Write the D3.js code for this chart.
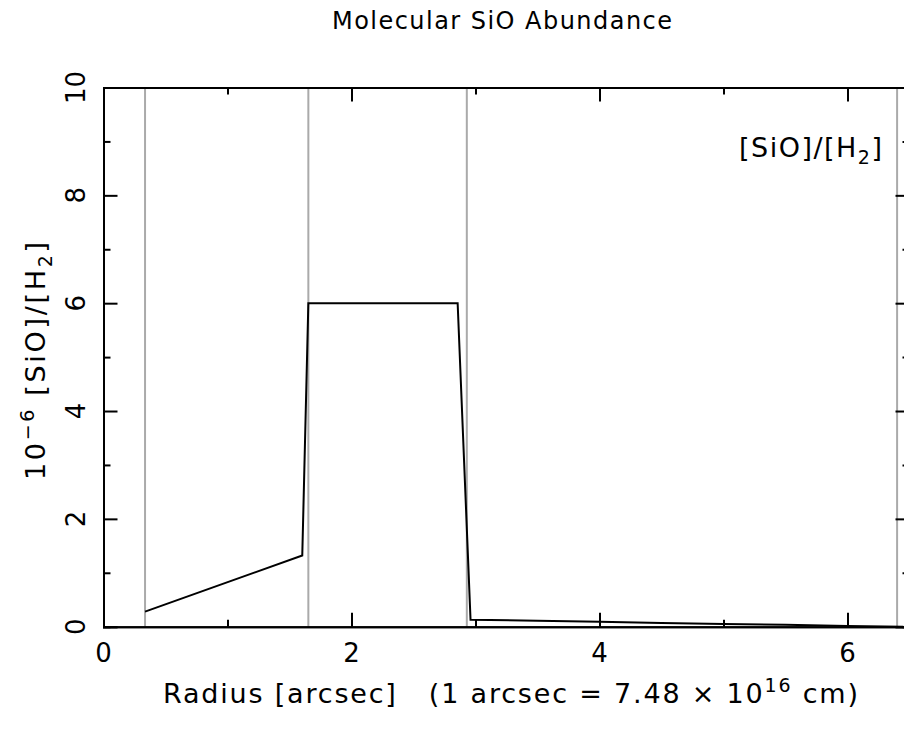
<!DOCTYPE html>
<html><head><meta charset="utf-8">
<script src="https://cdn.jsdelivr.net/npm/d3@7"></script>
<style>body{margin:0;background:#fff}svg{display:block}text{font-family:"DejaVu Sans",sans-serif;fill:#000}</style>
</head><body>
<script>
// Data
const radius = [0.335, 1.603, 1.652, 2.856, 2.96, 3.5, 4.0, 4.5, 5.0, 5.5, 6.0, 6.45];
const abundance = [0.28, 1.32, 6.0, 6.0, 0.13, 0.11, 0.09, 0.07, 0.05, 0.035, 0.015, 0.0];
const shellEdges = [0.335, 1.652, 2.93, 6.40];
const xMajorTicks = [0, 2, 4, 6];
const xMinorTicks = [1, 3, 5];
const yMajorTicks = [0, 2, 4, 6, 8, 10];
const yMinorTicks = [1, 3, 5, 7, 9];

const W = 904, H = 731;
const L = 103.5, R = 909.5, T = 87.5, B = 626.7;
const svg = d3.select("body").append("svg").attr("width", W).attr("height", H);
const x = d3.scaleLinear().domain([0, 6.5]).range([L, R]);
const y = d3.scaleLinear().domain([0, 10]).range([B, T]);

// shell edges
svg.selectAll("line.edge").data(shellEdges).enter().append("line")
  .attr("x1", d => x(d)).attr("x2", d => x(d)).attr("y1", T).attr("y2", B)
  .attr("stroke", "#aaa").attr("stroke-width", 2);

// axes with ticks inward
function addAxis(gen, tr, major, minor, lenMaj, lenMin) {
  const g = svg.append("g").attr("transform", tr);
  g.call(gen.tickValues(major).tickSize(lenMaj).tickFormat(""));
  const g2 = svg.append("g").attr("transform", tr);
  g2.call(gen.tickValues(minor).tickSize(lenMin).tickFormat(""));
  [g, g2].forEach(gg => { gg.selectAll("path").attr("stroke", "#000").attr("stroke-width", 2);
    gg.selectAll("line").attr("stroke", "#000").attr("stroke-width", 2); });
}
addAxis(d3.axisTop(x), `translate(0,${B})`, xMajorTicks, xMinorTicks, 14, 7);
addAxis(d3.axisBottom(x), `translate(0,${T})`, xMajorTicks, xMinorTicks, 14, 7);
addAxis(d3.axisRight(y), `translate(${L},0)`, yMajorTicks, yMinorTicks, 14, 7);
addAxis(d3.axisLeft(y), `translate(${R},0)`, yMajorTicks, yMinorTicks, 14, 7);

// tick labels
svg.selectAll("text.xt").data(xMajorTicks).enter().append("text")
  .attr("x", d => x(d)).attr("y", 662).attr("text-anchor", "middle")
  .attr("font-size", 26).text(d => d);
svg.selectAll("text.yt").data(yMajorTicks).enter().append("text")
  .attr("transform", d => `translate(85,${y(d)}) rotate(-90)`).attr("text-anchor", "middle")
  .attr("font-size", 26).text(d => d);

// data line
const line = d3.line().x((d, i) => x(radius[i])).y(d => y(d));
svg.append("path").datum(abundance).attr("d", line)
  .attr("fill", "none").attr("stroke", "#000").attr("stroke-width", 2).attr("stroke-linejoin", "miter");

// title
svg.append("text").attr("x", 502).attr("y", 29).attr("text-anchor", "middle")
  .attr("font-size", 24).attr("textLength", 340).attr("lengthAdjust", "spacing")
  .text("Molecular SiO Abundance");

// legend
const lg = svg.append("text").attr("x", 739).attr("y", 157).attr("font-size", 27)
  .attr("textLength", 143).attr("lengthAdjust", "spacing");
lg.append("tspan").text("[SiO]/[H");
lg.append("tspan").attr("font-size", 19).attr("dy", 7).text("2");
lg.append("tspan").attr("dy", -7).text("]");

// y label
const yl = svg.append("text").attr("transform", `translate(45,${480}) rotate(-90)`)
  .attr("font-size", 27).attr("textLength", 238).attr("lengthAdjust", "spacing");
yl.append("tspan").text("10");
yl.append("tspan").attr("font-size", 19).attr("dy", -11).text("−6");
yl.append("tspan").attr("dy", 11).text(" [SiO]/[H");
yl.append("tspan").attr("font-size", 19).attr("dy", 7).text("2");
yl.append("tspan").attr("dy", -7).text("]");

// x label
const xl = svg.append("text").attr("x", 163).attr("y", 703).attr("font-size", 27)
  .attr("textLength", 695).attr("lengthAdjust", "spacing").style("white-space", "pre");
xl.append("tspan").text("Radius [arcsec]   (1 arcsec = 7.48 × 10");
xl.append("tspan").attr("font-size", 19).attr("dy", -11).text("16");
xl.append("tspan").attr("dy", 11).text(" cm)");
</script>
</body></html>
